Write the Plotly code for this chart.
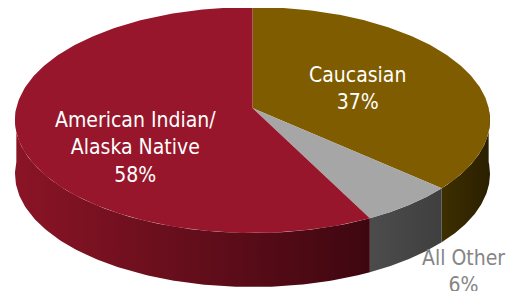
import numpy as np
import plotly.graph_objects as go

categories = ["Caucasian", "All Other", "American Indian/<br>Alaska Native"]
values = [37, 6, 58]
pct_labels = ["37%", "6%", "58%"]
top_colors = ["#7F5C00", "#A6A6A6", "#97162B"]
side_colors = [("#3E2F00", "#2A1F00"), ("#4C4C4C", "#3F3F3F"), ("#8A1426", "#3E0710")]

# geometry (pixel space of the browser window)
W, H = 515, 291
OFF = 8  # default page body margin
x_left, x_right, y_top, y_bottom = 15.0, 490.0, 7.0, 233.0
persp = 0.106
depth = 54.0


def project(theta):
    X, Z = np.sin(theta), np.cos(theta)
    D = 1.0 + persp * Z
    return X / D, -Z / D


# bounding box of projected rim for normalisation
_tt = np.linspace(0, 2 * np.pi, 4000)
_px, _py = project(_tt)
px_min, px_max, py_min, py_max = _px.min(), _px.max(), _py.min(), _py.max()


def to_screen(px, py):
    sx = x_left + (px - px_min) / (px_max - px_min) * (x_right - x_left)
    sy = y_top + (py - py_min) / (py_max - py_min) * (y_bottom - y_top)
    return sx, sy


def rim(theta, dy=0.0):
    sx, sy = to_screen(*project(theta))
    return sx, sy + dy


vx, vy = to_screen(0.0, 0.0)

fig = go.Figure()
total = sum(values)
cum = np.concatenate([[0], np.cumsum(values)]) / total * 2 * np.pi

# sides (front half only)
for i in range(len(values)):
    a0, a1 = max(cum[i], np.pi / 2), min(cum[i + 1], 3 * np.pi / 2)
    if a1 <= a0:
        continue
    t = np.linspace(a0, a1, 120)
    xt, yt = rim(t)
    xb, yb = rim(t[::-1], depth)
    xs = np.concatenate([xt, xb, xt[:1]])
    ys = np.concatenate([yt, yb, yt[:1]])
    c1, c2 = side_colors[i]
    fig.add_trace(go.Scatter(x=xs, y=ys, mode="lines", fill="toself",
                             line=dict(width=0, color=c1),
                             fillgradient=dict(type="horizontal",
                                               colorscale=[[0, c1], [1, c2]]),
                             hoverinfo="skip", showlegend=False))

# top faces
for i in range(len(values)):
    t = np.linspace(cum[i], cum[i + 1], 200)
    xt, yt = rim(t)
    xs = np.concatenate([[vx], xt, [vx]])
    ys = np.concatenate([[vy], yt, [vy]])
    fig.add_trace(go.Scatter(x=xs, y=ys, mode="lines", fill="toself",
                             fillcolor=top_colors[i], line=dict(width=0, color=top_colors[i]),
                             hoverinfo="skip", showlegend=False))

font_family = "DejaVu Sans Condensed, DejaVu Sans, sans-serif"
label_pos = [(357, 88, "white"), (463, 271, "#858585"), (135, 147, "white")]
for i, (lx, ly, col) in enumerate(label_pos):
    fig.add_annotation(x=lx, y=ly, xref="x", yref="y",
                       text=f"{categories[i]}<br>{pct_labels[i]}",
                       showarrow=False, font=dict(family=font_family, size=21, color=col),
                       align="center")

fig.update_xaxes(range=[OFF, W], visible=False, fixedrange=True)
fig.update_yaxes(range=[H, OFF], visible=False, fixedrange=True)
fig.update_layout(width=W - OFF, height=H - OFF, margin=dict(l=0, r=0, t=0, b=0),
                  plot_bgcolor="white", paper_bgcolor="white")
fig.write_html("out.html")
